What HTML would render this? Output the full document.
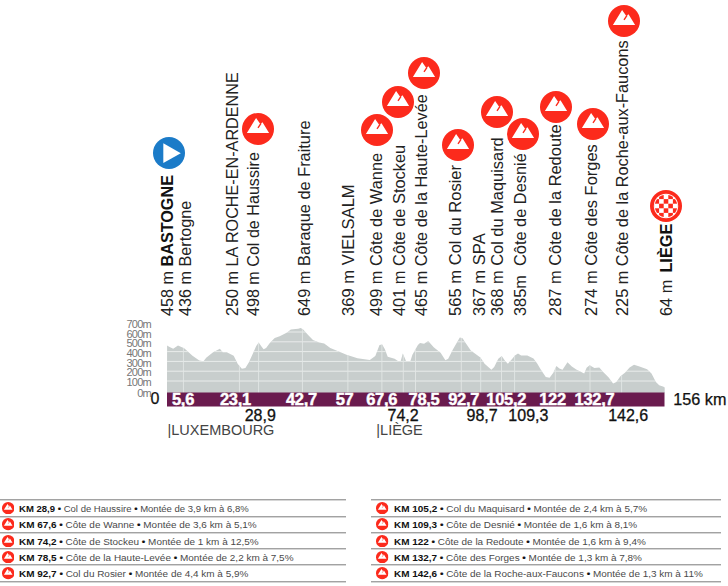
<!DOCTYPE html>
<html><head><meta charset="utf-8"><style>
html,body{margin:0;padding:0;background:#fff;width:728px;height:586px;overflow:hidden;position:relative;font-family:"Liberation Sans",sans-serif;}
.v{position:absolute;white-space:nowrap;transform-origin:0 0;transform:rotate(-90deg);font-size:16.4px;line-height:16.4px;color:#222;}
.v b{color:#111}
.ic{position:absolute;width:32px;height:32px;overflow:visible}
.sic{position:absolute;width:12.4px;height:12.4px}
.bl{position:absolute;width:80px;text-align:center;top:391.3px;font-weight:bold;font-size:16.5px;line-height:16px;color:#fff;letter-spacing:-0.3px;-webkit-text-stroke:0.45px #fff}
.ll{position:absolute;width:80px;text-align:center;top:407.5px;font-size:16px;line-height:16px;color:#111;-webkit-text-stroke:0.3px #111}
.ya{position:absolute;right:577px;font-size:11px;line-height:12px;color:#777;letter-spacing:-0.75px;white-space:nowrap}
.hr{position:absolute;height:1px;background:#a2a2a2;box-shadow:0 1px 0 #d6d6d6}
.tr{position:absolute;transform-origin:0 0;font-size:9.7px;line-height:16.35px;color:#4a4a4a;white-space:nowrap}
.tr b{color:#111}
.bu{color:#111;-webkit-text-stroke:0.2px #111}
.reg{position:absolute;font-size:14.5px;line-height:16px;color:#444;white-space:nowrap;top:422.4px}
</style></head><body>
<svg width="0" height="0" style="position:absolute">
<defs>
<symbol id="mtn" viewBox="0 0 32 32">
<circle cx="16" cy="16" r="16" fill="#fc2a1c"/>
<polygon points="4.9,20.1 14.1,4.9 18.3,11.1 20.5,9.3 27.1,20.1" fill="#fff"/>
<line x1="16.0" y1="14.9" x2="19.0" y2="10.4" stroke="#fc2a1c" stroke-width="1.4"/>
</symbol>
<clipPath id="prof"><path d="M167,393 L167.1,345.4 L167.1,345.4 L169.1,346.8 L173.2,348.8 L178.0,345.4 L184.2,348.2 L192.5,355.7 L199.3,360.5 L203.5,361.2 L206.2,357.8 L213.1,352.3 L219.9,348.8 L222.7,352.3 L226.8,352.3 L233.7,355.7 L237.8,364.0 L241.9,368.8 L245.4,368.1 L248.8,362.6 L253.7,351.7 L256.2,346.1 L258.7,342.4 L261.1,346.1 L263.6,349.2 L266.1,348.0 L269.8,343.0 L274.7,338.1 L279.7,336.2 L287.1,332.5 L290.8,329.4 L298.2,328.8 L300.7,327.9 L303.2,329.4 L308.1,335.0 L313.0,339.9 L319.2,342.4 L324.2,343.6 L330.3,348.0 L338.2,351.3 L346.5,354.7 L357.5,358.2 L369.8,359.9 L375.3,356.1 L379.5,345.1 L382.2,344.4 L384.9,349.2 L387.7,356.8 L394.6,358.8 L398.7,361.6 L400.7,360.9 L402.8,353.4 L404.9,358.2 L406.2,361.6 L410.4,360.9 L412.4,354.7 L417.9,345.1 L420.0,343.0 L424.1,343.7 L428.2,341.0 L433.7,347.2 L440.6,352.7 L445.4,360.2 L448.2,358.8 L453.0,349.2 L459.8,337.6 L462.6,338.2 L465.3,342.4 L470.8,350.6 L474.9,353.4 L480.4,357.5 L484.6,363.7 L491.4,369.8 L494.2,367.1 L498.3,358.8 L501.7,356.1 L505.2,360.9 L507.9,363.7 L512.5,358.5 L514.9,355.5 L518.0,353.6 L521.1,355.5 L527.3,355.5 L533.5,358.5 L537.2,363.5 L540.9,369.7 L545.8,377.1 L549.6,377.7 L553.3,372.8 L556.4,366.0 L559.4,368.4 L562.5,369.7 L567.5,362.2 L571.8,366.6 L576.7,369.7 L584.2,373.4 L586.6,367.8 L589.7,365.3 L594.4,368.1 L599.3,367.6 L603.2,372.0 L608.7,377.5 L613.1,383.5 L616.4,381.9 L620.2,376.4 L625.2,372.5 L629.6,367.6 L634.0,364.8 L639.5,366.5 L647.1,369.2 L651.5,373.6 L655.9,381.9 L659.2,385.2 L663.6,386.8 L664.7,387.4 L664.7,393 Z"/></clipPath>
</defs></svg>
<svg style="position:absolute;left:0;top:0" width="728" height="586">
<path d="M167,393 L167.1,345.4 L167.1,345.4 L169.1,346.8 L173.2,348.8 L178.0,345.4 L184.2,348.2 L192.5,355.7 L199.3,360.5 L203.5,361.2 L206.2,357.8 L213.1,352.3 L219.9,348.8 L222.7,352.3 L226.8,352.3 L233.7,355.7 L237.8,364.0 L241.9,368.8 L245.4,368.1 L248.8,362.6 L253.7,351.7 L256.2,346.1 L258.7,342.4 L261.1,346.1 L263.6,349.2 L266.1,348.0 L269.8,343.0 L274.7,338.1 L279.7,336.2 L287.1,332.5 L290.8,329.4 L298.2,328.8 L300.7,327.9 L303.2,329.4 L308.1,335.0 L313.0,339.9 L319.2,342.4 L324.2,343.6 L330.3,348.0 L338.2,351.3 L346.5,354.7 L357.5,358.2 L369.8,359.9 L375.3,356.1 L379.5,345.1 L382.2,344.4 L384.9,349.2 L387.7,356.8 L394.6,358.8 L398.7,361.6 L400.7,360.9 L402.8,353.4 L404.9,358.2 L406.2,361.6 L410.4,360.9 L412.4,354.7 L417.9,345.1 L420.0,343.0 L424.1,343.7 L428.2,341.0 L433.7,347.2 L440.6,352.7 L445.4,360.2 L448.2,358.8 L453.0,349.2 L459.8,337.6 L462.6,338.2 L465.3,342.4 L470.8,350.6 L474.9,353.4 L480.4,357.5 L484.6,363.7 L491.4,369.8 L494.2,367.1 L498.3,358.8 L501.7,356.1 L505.2,360.9 L507.9,363.7 L512.5,358.5 L514.9,355.5 L518.0,353.6 L521.1,355.5 L527.3,355.5 L533.5,358.5 L537.2,363.5 L540.9,369.7 L545.8,377.1 L549.6,377.7 L553.3,372.8 L556.4,366.0 L559.4,368.4 L562.5,369.7 L567.5,362.2 L571.8,366.6 L576.7,369.7 L584.2,373.4 L586.6,367.8 L589.7,365.3 L594.4,368.1 L599.3,367.6 L603.2,372.0 L608.7,377.5 L613.1,383.5 L616.4,381.9 L620.2,376.4 L625.2,372.5 L629.6,367.6 L634.0,364.8 L639.5,366.5 L647.1,369.2 L651.5,373.6 L655.9,381.9 L659.2,385.2 L663.6,386.8 L664.7,387.4 L664.7,393 Z" fill="#c8cecd"/>
<g clip-path="url(#prof)"><g stroke="#e9eceb" stroke-width="1"><line x1="167" y1="322.2" x2="665" y2="322.2"/><line x1="167" y1="332" x2="665" y2="332"/><line x1="167" y1="341.8" x2="665" y2="341.8"/><line x1="167" y1="351.6" x2="665" y2="351.6"/><line x1="167" y1="361.4" x2="665" y2="361.4"/><line x1="167" y1="371.2" x2="665" y2="371.2"/><line x1="167" y1="381" x2="665" y2="381"/></g><g stroke="#e2e6e5" stroke-width="0.9"><line x1="183.4" y1="300" x2="183.4" y2="393"/><line x1="239.4" y1="300" x2="239.4" y2="393"/><line x1="258.6" y1="300" x2="258.6" y2="393"/><line x1="302.4" y1="300" x2="302.4" y2="393"/><line x1="347.9" y1="300" x2="347.9" y2="393"/><line x1="381.9" y1="300" x2="381.9" y2="393"/><line x1="403.3" y1="300" x2="403.3" y2="393"/><line x1="415.5" y1="300" x2="415.5" y2="393"/><line x1="461.3" y1="300" x2="461.3" y2="393"/><line x1="480.7" y1="300" x2="480.7" y2="393"/><line x1="501.5" y1="300" x2="501.5" y2="393"/><line x1="514.6" y1="300" x2="514.6" y2="393"/><line x1="555.3" y1="300" x2="555.3" y2="393"/><line x1="590.0" y1="300" x2="590.0" y2="393"/><line x1="621.6" y1="300" x2="621.6" y2="393"/></g></g>
<rect x="167" y="392.5" width="497.5" height="14" fill="#6a1b4e"/>
</svg>
<div class="v" style="left:159.2px;top:316px;font-size:16.20px">458 m <b>BASTOGNE</b></div>
<div class="v" style="left:176.9px;top:316px;font-size:16.20px">436 m Bertogne</div>
<div class="v" style="left:224.3px;top:316px;font-size:16.20px">250 m LA ROCHE-EN-ARDENNE</div>
<div class="v" style="left:245.0px;top:316px;font-size:16.11px">498 m Col de Haussire</div>
<div class="v" style="left:295.8px;top:316px;font-size:16.38px">649 m Baraque de Fraiture</div>
<div class="v" style="left:341.2px;top:316px;font-size:16.57px">369 m VIELSALM</div>
<div class="v" style="left:367.8px;top:316px;font-size:16.36px">499 m Côte de Wanne</div>
<div class="v" style="left:390.6px;top:316px;font-size:16.39px">401 m Côte de Stockeu</div>
<div class="v" style="left:413.2px;top:316px;font-size:16.30px">465 m Côte de la Haute-Levée</div>
<div class="v" style="left:447.7px;top:316px;font-size:16.59px">565 m Col du Rosier</div>
<div class="v" style="left:471.7px;top:316px;font-size:16.63px">367 m SPA</div>
<div class="v" style="left:489.0px;top:316px;font-size:16.42px">368 m Col du Maquisard</div>
<div class="v" style="left:511.9px;top:316px;font-size:16.38px">385m&nbsp; Côte de Desnié</div>
<div class="v" style="left:547.0px;top:316px;font-size:16.43px">287 m Côte de la Redoute</div>
<div class="v" style="left:582.9px;top:316px;font-size:16.46px">274 m Côte des Forges</div>
<div class="v" style="left:613.5px;top:316px;font-size:16.32px">225 m Côte de la Roche-aux-Faucons</div>
<div class="v" style="left:657.5px;top:316px;font-size:16.35px">64 m <b style="margin-left:2.5px">LIÈGE</b></div>
<svg class="ic" style="left:152.7px;top:137px" viewBox="0 0 32 32"><circle cx="16" cy="16" r="16" fill="#1b7bc8"/><polygon points="10.3,6.3 10.3,26 27.8,16.15" fill="#fff"/></svg>
<svg class="ic" style="left:649.9px;top:189.5px" viewBox="0 0 32 32">
<defs><clipPath id="cc"><circle cx="16" cy="16" r="11.3"/></clipPath></defs>
<circle cx="16" cy="16" r="16" fill="#fc2a1c"/><circle cx="16" cy="16" r="12.2" fill="#fff"/>
<g clip-path="url(#cc)" fill="#fc2a1c">
<rect x="4.50" y="-0.10" width="4.6" height="4.6"/><rect x="13.70" y="-0.10" width="4.6" height="4.6"/><rect x="22.90" y="-0.10" width="4.6" height="4.6"/><rect x="-0.10" y="4.50" width="4.6" height="4.6"/><rect x="9.10" y="4.50" width="4.6" height="4.6"/><rect x="18.30" y="4.50" width="4.6" height="4.6"/><rect x="27.50" y="4.50" width="4.6" height="4.6"/><rect x="4.50" y="9.10" width="4.6" height="4.6"/><rect x="13.70" y="9.10" width="4.6" height="4.6"/><rect x="22.90" y="9.10" width="4.6" height="4.6"/><rect x="-0.10" y="13.70" width="4.6" height="4.6"/><rect x="9.10" y="13.70" width="4.6" height="4.6"/><rect x="18.30" y="13.70" width="4.6" height="4.6"/><rect x="27.50" y="13.70" width="4.6" height="4.6"/><rect x="4.50" y="18.30" width="4.6" height="4.6"/><rect x="13.70" y="18.30" width="4.6" height="4.6"/><rect x="22.90" y="18.30" width="4.6" height="4.6"/><rect x="-0.10" y="22.90" width="4.6" height="4.6"/><rect x="9.10" y="22.90" width="4.6" height="4.6"/><rect x="18.30" y="22.90" width="4.6" height="4.6"/><rect x="27.50" y="22.90" width="4.6" height="4.6"/><rect x="4.50" y="27.50" width="4.6" height="4.6"/><rect x="13.70" y="27.50" width="4.6" height="4.6"/><rect x="22.90" y="27.50" width="4.6" height="4.6"/>
</g></svg>
<svg class="ic" style="left:242.1px;top:112.9px" viewBox="0 0 32 32"><use href="#mtn"/></svg>
<svg class="ic" style="left:361.0px;top:113.9px" viewBox="0 0 32 32"><use href="#mtn"/></svg>
<svg class="ic" style="left:381.5px;top:86.0px" viewBox="0 0 32 32"><use href="#mtn"/></svg>
<svg class="ic" style="left:407.7px;top:57.0px" viewBox="0 0 32 32"><use href="#mtn"/></svg>
<svg class="ic" style="left:441.5px;top:128.7px" viewBox="0 0 32 32"><use href="#mtn"/></svg>
<svg class="ic" style="left:480.7px;top:96.3px" viewBox="0 0 32 32"><use href="#mtn"/></svg>
<svg class="ic" style="left:506.8px;top:118.3px" viewBox="0 0 32 32"><use href="#mtn"/></svg>
<svg class="ic" style="left:540.0px;top:90.8px" viewBox="0 0 32 32"><use href="#mtn"/></svg>
<svg class="ic" style="left:577.1px;top:108.0px" viewBox="0 0 32 32"><use href="#mtn"/></svg>
<svg class="ic" style="left:607.5px;top:4.9px" viewBox="0 0 32 32"><use href="#mtn"/></svg>
<div class="ya" style="top:318.1px">700m</div>
<div class="ya" style="top:327.8px">600m</div>
<div class="ya" style="top:337.4px">500m</div>
<div class="ya" style="top:347.1px">400m</div>
<div class="ya" style="top:356.8px">300m</div>
<div class="ya" style="top:366.4px">200m</div>
<div class="ya" style="top:376.1px">100m</div>
<div class="ya" style="top:387.2px">0m</div>
<div style="position:absolute;left:150.5px;top:391.2px;font-size:16px;line-height:16px;color:#111;-webkit-text-stroke:0.25px #111">0</div>
<div class="bl" style="left:143.0px">5,6</div>
<div class="bl" style="left:195.4px">23,1</div>
<div class="bl" style="left:261.4px">42,7</div>
<div class="bl" style="left:304.6px">57</div>
<div class="bl" style="left:341.7px">67,6</div>
<div class="bl" style="left:384.0px">78,5</div>
<div class="bl" style="left:423.6px">92,7</div>
<div class="bl" style="left:466.2px">105,2</div>
<div class="bl" style="left:512.5px">122</div>
<div class="bl" style="left:554.5px">132,7</div>
<div class="ll" style="left:220.3px">28,9</div>
<div class="ll" style="left:363.1px">74,2</div>
<div class="ll" style="left:442.1px">98,7</div>
<div class="ll" style="left:488.4px">109,3</div>
<div class="ll" style="left:588.2px">142,6</div>
<div class="reg" style="left:167.5px">|LUXEMBOURG</div>
<div class="reg" style="left:376.3px">|LIÈGE</div>
<div style="position:absolute;left:673.3px;top:391.2px;font-size:16.2px;line-height:16px;color:#111;white-space:nowrap;-webkit-text-stroke:0.25px #111">156 km</div>
<div class="hr" style="left:0px;width:345.8px;top:499px"></div>
<div class="hr" style="left:0px;width:345.8px;top:516px"></div>
<div class="hr" style="left:0px;width:345.8px;top:532px"></div>
<div class="hr" style="left:0px;width:345.8px;top:548px"></div>
<div class="hr" style="left:0px;width:345.8px;top:564px"></div>
<div class="hr" style="left:0px;width:345.8px;top:581px"></div>
<svg class="sic" style="left:1.8px;top:501.9px" viewBox="0 0 32 32"><use href="#mtn"/></svg>
<div class="tr" style="left:19px;top:500.80px;transform:scaleX(0.9836)"><b>KM 28,9</b> <span class="bu">•</span> Col de Haussire <span class="bu">•</span> Montée de 3,9 km à 6,8%</div>
<svg class="sic" style="left:1.8px;top:518.2px" viewBox="0 0 32 32"><use href="#mtn"/></svg>
<div class="tr" style="left:19px;top:517.15px;transform:scaleX(1.0261)"><b>KM 67,6</b> <span class="bu">•</span> Côte de Wanne <span class="bu">•</span> Montée de 3,6 km à 5,1%</div>
<svg class="sic" style="left:1.8px;top:534.6px" viewBox="0 0 32 32"><use href="#mtn"/></svg>
<div class="tr" style="left:19px;top:533.50px;transform:scaleX(1.0259)"><b>KM 74,2</b> <span class="bu">•</span> Côte de Stockeu <span class="bu">•</span> Montée de 1 km à 12,5%</div>
<svg class="sic" style="left:1.8px;top:550.9px" viewBox="0 0 32 32"><use href="#mtn"/></svg>
<div class="tr" style="left:19px;top:549.85px;transform:scaleX(1.0283)"><b>KM 78,5</b> <span class="bu">•</span> Côte de la Haute-Levée <span class="bu">•</span> Montée de 2,2 km à 7,5%</div>
<svg class="sic" style="left:1.8px;top:567.3px" viewBox="0 0 32 32"><use href="#mtn"/></svg>
<div class="tr" style="left:19px;top:566.20px;transform:scaleX(1.027)"><b>KM 92,7</b> <span class="bu">•</span> Col du Rosier <span class="bu">•</span> Montée de 4,4 km à 5,9%</div>
<div class="hr" style="left:371.3px;width:349.7px;top:499px"></div>
<div class="hr" style="left:371.3px;width:349.7px;top:516px"></div>
<div class="hr" style="left:371.3px;width:349.7px;top:532px"></div>
<div class="hr" style="left:371.3px;width:349.7px;top:548px"></div>
<div class="hr" style="left:371.3px;width:349.7px;top:564px"></div>
<div class="hr" style="left:371.3px;width:349.7px;top:581px"></div>
<svg class="sic" style="left:376.3px;top:501.9px" viewBox="0 0 32 32"><use href="#mtn"/></svg>
<div class="tr" style="left:394px;top:500.80px;transform:scaleX(1.0295)"><b>KM 105,2</b> <span class="bu">•</span> Col du Maquisard <span class="bu">•</span> Montée de 2,4 km à 5,7%</div>
<svg class="sic" style="left:376.3px;top:518.2px" viewBox="0 0 32 32"><use href="#mtn"/></svg>
<div class="tr" style="left:394px;top:517.15px;transform:scaleX(1.027)"><b>KM 109,3</b> <span class="bu">•</span> Côte de Desnié <span class="bu">•</span> Montée de 1,6 km à 8,1%</div>
<svg class="sic" style="left:376.3px;top:534.6px" viewBox="0 0 32 32"><use href="#mtn"/></svg>
<div class="tr" style="left:394px;top:533.50px;transform:scaleX(1.026)"><b>KM 122</b> <span class="bu">•</span> Côte de la Redoute <span class="bu">•</span> Montée de 1,6 km à 9,4%</div>
<svg class="sic" style="left:376.3px;top:550.9px" viewBox="0 0 32 32"><use href="#mtn"/></svg>
<div class="tr" style="left:394px;top:549.85px;transform:scaleX(1.026)"><b>KM 132,7</b> <span class="bu">•</span> Côte des Forges <span class="bu">•</span> Montée de 1,3 km à 7,8%</div>
<svg class="sic" style="left:376.3px;top:567.3px" viewBox="0 0 32 32"><use href="#mtn"/></svg>
<div class="tr" style="left:394px;top:566.20px;transform:scaleX(1.027)"><b>KM 142,6</b> <span class="bu">•</span> Côte de la Roche-aux-Faucons <span class="bu">•</span> Montée de 1,3 km à 11%</div>
</body></html>
